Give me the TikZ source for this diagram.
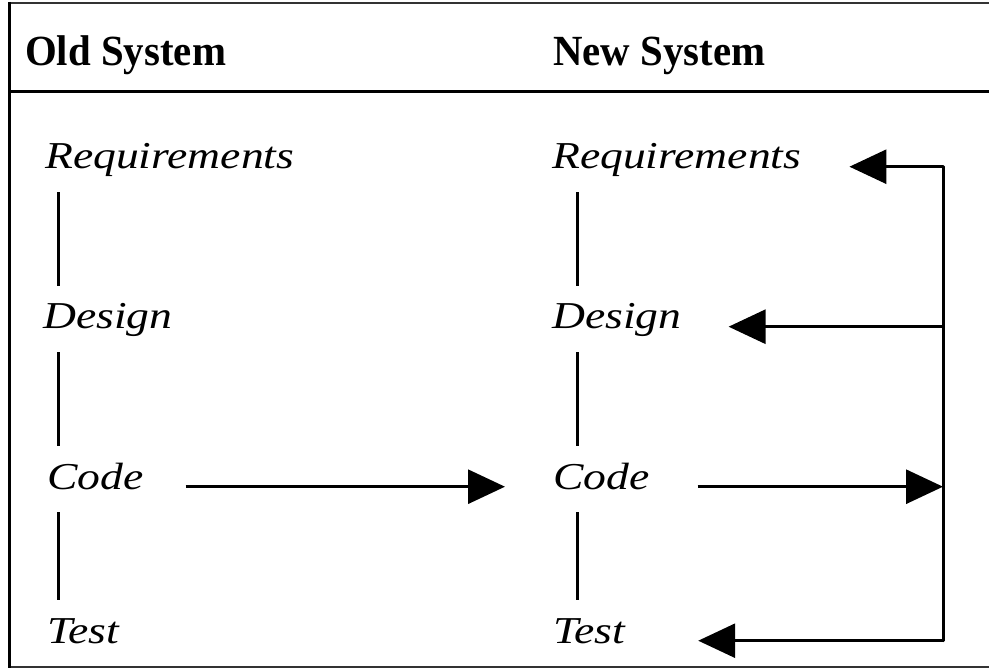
\documentclass[tikz,border=0pt]{standalone}
\usepackage{fontspec}
\setmainfont{Liberation Serif}
\newfontfamily\headfont[FakeStretch=0.95]{Liberation Serif}
\newfontfamily\stagefont[FakeStretch=1.2]{Liberation Serif}
\usetikzlibrary{arrows.meta}
\tikzset{
  headtext/.style={font=\headfont\fontsize{43}{47}\selectfont\bfseries, inner sep=0pt, anchor=base west},
  stagetext/.style={font=\stagefont\fontsize{38}{42}\selectfont\itshape, inner sep=0pt, anchor=base west,
                    text height=27pt, text depth=9pt},
  frameline/.style={line width=3pt, black},
  thinframe/.style={line width=1.5pt, black!80},
  link/.style={line width=3pt, shorten <=14pt, shorten >=16pt},
  flow/.style={line width=3pt, -{Triangle[length=37pt,width=34pt]}},
  bus/.style={line width=3pt, line cap=round}
}
\begin{document}
\begin{tikzpicture}[x=1pt,y=-1pt]
  \useasboundingbox (0,0) rectangle (989,671);

  % frame: top, left, header rule, bottom
  \draw[thinframe] (8,3) -- (989,3);
  \draw[thinframe] (8,667) -- (989,667);
  \draw[frameline] (9,2) -- (9,668);
  \draw[frameline] (8,92) -- (989,92);

  % column headings
  \node[headtext] (hold) at (25,66) {Old System};
  \node[headtext] (hnew) at (553,66) {New System};

  % stages of the old system
  \node[stagetext] (oreq)  at (45,169) {Requirements};
  \node[stagetext] (odes)  at (43,329) {Design};
  \node[stagetext] (ocode) at (47,489) {Code};
  \node[stagetext] (otest) at (47,643) {Test};

  % stages of the new system
  \node[stagetext] (nreq)  at (552,169) {Requirements};
  \node[stagetext] (ndes)  at (552,329) {Design};
  \node[stagetext] (ncode) at (553,489) {Code};
  \node[stagetext] (ntest) at (553,643) {Test};

  % x positions of the stage links and of the feedback bus
  \coordinate (oldx) at (58,0);
  \coordinate (newx) at (577,0);
  \coordinate (bus)  at (943,0);

  % links between successive stages
  \draw[link] (oreq.south -| oldx) -- (odes.north -| oldx);
  \draw[link] (odes.south -| oldx) -- (ocode.north -| oldx);
  \draw[link] (ocode.south -| oldx) -- (otest.north -| oldx);
  \draw[link] (nreq.south -| newx) -- (ndes.north -| newx);
  \draw[link] (ndes.south -| newx) -- (ncode.north -| newx);
  \draw[link] (ncode.south -| newx) -- (ntest.north -| newx);

  % code carried over from the old system
  \draw[flow] ([xshift=42pt]ocode.mid east) -- ([xshift=-48pt]ncode.mid west);

  % new code fed back to the other stages
  \draw[bus] (bus |- nreq.mid) -- (bus |- ntest.mid);
  \draw[flow] ([xshift=48pt]ncode.mid east) -- (bus |- ncode.mid);
  \draw[flow] (bus |- nreq.mid) -- ([xshift=48pt]nreq.mid east);
  \draw[flow] (bus |- ndes.mid) -- ([xshift=47pt]ndes.mid east);
  \draw[flow] (bus |- ntest.mid) -- ([xshift=73pt]ntest.mid east);
\end{tikzpicture}
\end{document}
